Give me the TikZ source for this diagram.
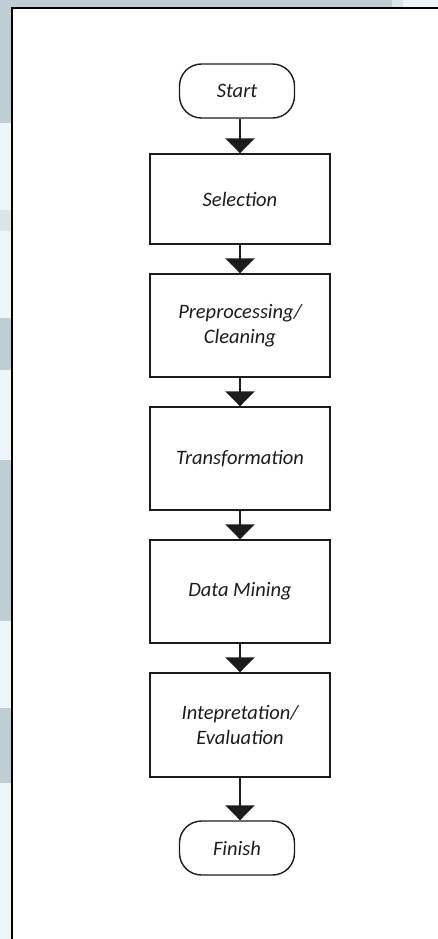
\documentclass[tikz,border=0pt]{standalone}
\usepackage{fontspec}
\setmainfont{Carlito}
\usetikzlibrary{arrows.meta}
\definecolor{bgblue}{HTML}{BFCED5}
\definecolor{bglight}{HTML}{EEF5F8}
\definecolor{bgmid}{HTML}{DCE4E7}
\definecolor{ink}{HTML}{1C1C1C}
\tikzset{
  procbox/.style={draw=ink, line width=1.4pt, minimum width=180pt, minimum height=103pt,
    inner sep=0pt, align=center, font=\fontsize{20.5}{25}\selectfont\itshape, text=ink},
  termbox/.style={draw=ink, line width=1.4pt, rounded corners=22pt, minimum width=115pt,
    minimum height=54pt, inner sep=0pt, font=\fontsize{20.5}{25}\selectfont\itshape, text=ink},
  flowarrow/.style={draw=ink, line width=2.6pt, -{Triangle[length=15pt,width=29pt]}},
}
\begin{document}
\begin{tikzpicture}[x=1pt,y=-1pt]
\useasboundingbox (0,0) rectangle (438,939);
% background outside the frame
\fill[bgblue] (0,0) rectangle (392,7);
\fill[bgmid] (392,0) rectangle (403,7);
\fill[bglight] (403,0) rectangle (438,7);
\fill[bgblue] (0,0) rectangle (11,123);
\fill[bglight] (0,123) rectangle (11,210);
\fill[bgmid] (0,210) rectangle (11,231);
\fill[bglight] (0,231) rectangle (11,318);
\fill[bgblue] (0,318) rectangle (11,370);
\fill[bglight] (0,370) rectangle (11,460);
\fill[bgblue] (0,460) rectangle (11,621);
\fill[bglight] (0,621) rectangle (11,708);
\fill[bgblue] (0,708) rectangle (11,783);
\fill[bglight] (0,783) rectangle (11,939);
% frame
\coordinate (fbl) at (11.8,940);
\coordinate (ftl) at (11.8,8);
\coordinate (ftr) at (440,8);
\draw[black, line width=2.2pt] (fbl) -- (ftl) -- (ftr);
% nodes
\node[termbox] (start) at (237,91) {Start};
\node[procbox, minimum height=90pt] (sel) at (240,199) {Selection};
\node[procbox] (pre) at (240,325.5) {Preprocessing/\\Cleaning};
\node[procbox] (tra) at (240,458.5) {Transformation};
\node[procbox] (dm) at (240,591.5) {Data Mining};
\node[procbox, minimum height=104pt] (int) at (240,725) {Intepretation/\\Evaluation};
\node[termbox] (fin) at (237,848) {Finish};
% connectors
\draw[flowarrow] (sel.north |- start.south) -- (sel.north);
\draw[flowarrow] (sel.south) -- (pre.north);
\draw[flowarrow] (pre.south) -- (tra.north);
\draw[flowarrow] (tra.south) -- (dm.north);
\draw[flowarrow] (dm.south) -- (int.north);
\draw[flowarrow] (int.south) -- (int.south |- fin.north);
\end{tikzpicture}
\end{document}
